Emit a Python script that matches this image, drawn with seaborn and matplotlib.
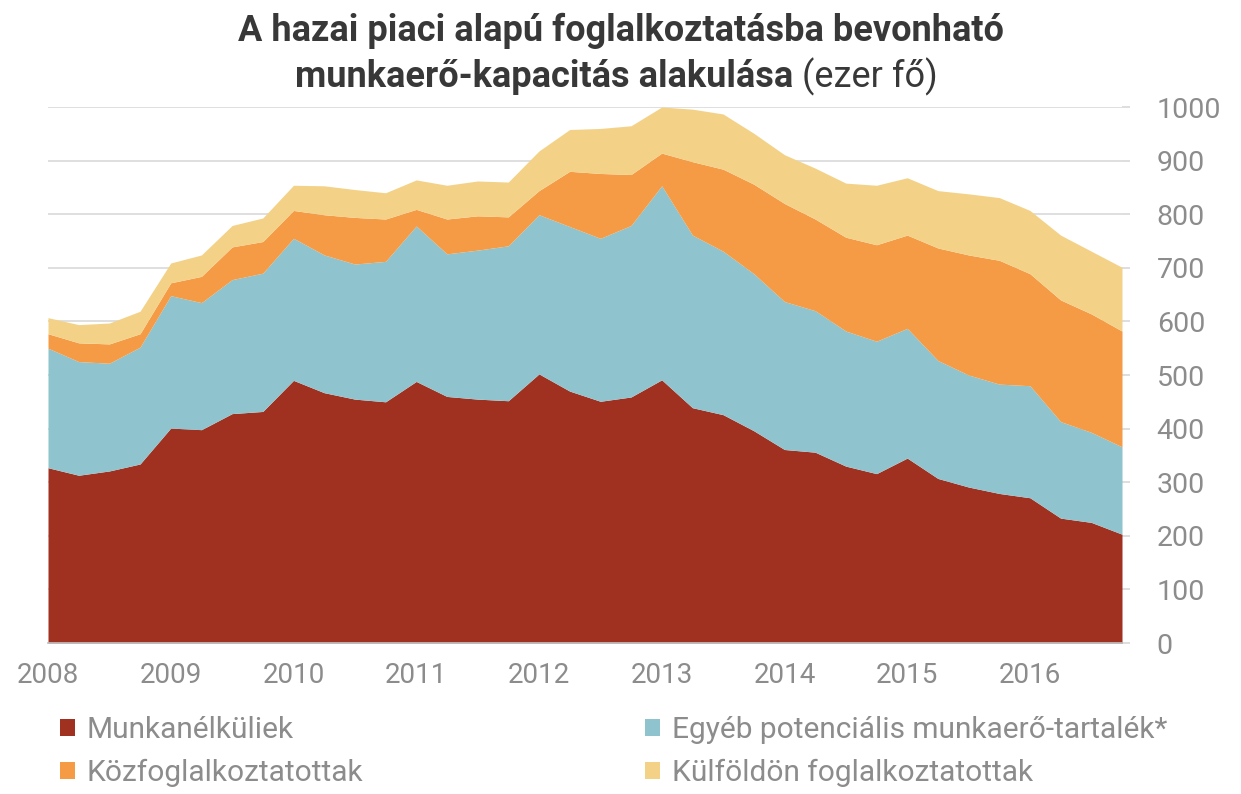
import numpy as np
import matplotlib
matplotlib.use("Agg")
import matplotlib.pyplot as plt
import seaborn as sns
from matplotlib.patches import Patch

# Quarterly data, 2008 Q1 - 2016 Q4 (thousand persons)
quarters = [f"{y}Q{q}" for y in range(2008, 2017) for q in range(1, 5)]
munkanelkuliek = [327, 313, 321, 334, 401, 398, 428, 432, 490, 467, 455, 450,
                  488, 460, 455, 452, 502, 470, 451, 459, 491, 439, 426, 396,
                  361, 356, 330, 316, 345, 307, 291, 279, 271, 233, 225, 203]
egyeb = [223, 212, 201, 218, 247, 237, 250, 258, 265, 257, 252, 262,
         290, 266, 278, 289, 297, 307, 304, 320, 362, 322, 305, 293,
         276, 264, 252, 247, 242, 220, 209, 204, 209, 180, 168, 163]
kozfoglalkoztatottak = [27, 35, 36, 25, 24, 49, 61, 59, 52, 75, 87, 79,
                        31, 65, 64, 54, 45, 103, 121, 95, 61, 137, 153, 167,
                        183, 171, 175, 180, 174, 210, 224, 231, 209, 227, 221, 216]
kulfoldon = [30, 34, 39, 42, 37, 40, 40, 44, 47, 54, 52, 49,
             55, 63, 65, 65, 74, 78, 84, 91, 86, 98, 103, 95,
             91, 95, 101, 111, 107, 107, 114, 117, 118, 121, 117, 119]
year_labels = [str(y) for y in range(2008, 2017)]
series_names = ["Munkanélküliek", "Egyéb potenciális munkaerő-tartalék*",
                "Közfoglalkoztatottak", "Külföldön foglalkoztatottak"]

sns.set_theme(style="white")
plt.rcParams["font.family"] = ["Roboto", "DejaVu Sans"]

colors = sns.color_palette(["#A03121", "#8FC4CE", "#F59B46", "#F3D288"])
gray = "#8c8c8c"

fig = plt.figure(figsize=(12.41, 7.94), dpi=100)
ax = fig.add_axes([48 / 1241, 1 - 643 / 794, (1122 - 48) / 1241, (643 - 107) / 794])

x = np.arange(len(quarters))
ax.stackplot(x, munkanelkuliek, egyeb, kozfoglalkoztatottak, kulfoldon,
             colors=colors, linewidth=0, zorder=2)

ax.set_xlim(0, len(quarters) - 1)
ax.set_ylim(0, 1000)
ax.set_yticks(range(0, 1001, 100))
ax.yaxis.tick_right()
ax.grid(axis="y", color="#d9d9d9", linewidth=1.2, zorder=0)
ax.tick_params(axis="y", which="both", right=True, length=6, color="#d9d9d9",
               labelsize=20.5, labelcolor=gray, pad=19)
ax.set_xticks(x[::4])
ax.set_xticklabels(year_labels)
ax.tick_params(axis="x", length=0, labelsize=20, labelcolor=gray, pad=14)
sns.despine(ax=ax, left=True, top=True, right=True)
ax.spines["bottom"].set_color("#bfbfbf")

# title: bold, with non-bold unit on second line
title_color = "#383838"
title_size = 26
fig.text(0.5, 1 - 31 / 794, "A hazai piaci alapú foglalkoztatásba bevonható",
         ha="center", va="center", fontsize=title_size, fontweight="bold", color=title_color)
t1 = fig.text(0, 1 - 77 / 794, "munkaerő-kapacitás alakulása ", ha="left", va="center",
              fontsize=title_size, fontweight="bold", color=title_color)
t2 = fig.text(0, 1 - 77 / 794, "(ezer fő)", ha="left", va="center",
              fontsize=title_size, color=title_color)
renderer = fig.canvas.get_renderer()
w1 = t1.get_window_extent(renderer).width
w2 = t2.get_window_extent(renderer).width
start = (1241 - (w1 + w2)) / 2 - 4
t1.set_x(start / 1241)
t2.set_x((start + w1) / 1241)

handles = [Patch(facecolor=c, edgecolor="none") for c in colors]
leg_kw = dict(frameon=False, fontsize=21.5, labelcolor=gray, handlelength=0.5,
              handleheight=0.5, handletextpad=0.4, labelspacing=0.5,
              borderaxespad=0, borderpad=0)
fig.legend([handles[0], handles[2]], [series_names[0], series_names[2]],
           loc="upper left", bbox_to_anchor=(60 / 1241, 1 - 716 / 794), **leg_kw)
fig.legend([handles[1], handles[3]], [series_names[1], series_names[3]],
           loc="upper left", bbox_to_anchor=(645 / 1241, 1 - 716 / 794), **leg_kw)

fig.savefig("out.png", dpi=100)
